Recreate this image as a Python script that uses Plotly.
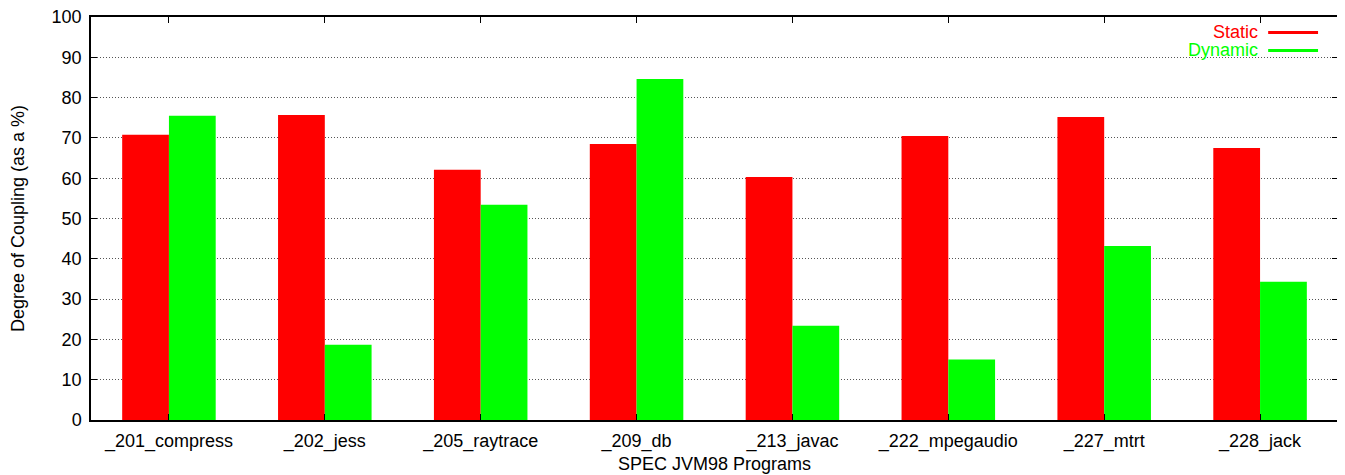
import plotly.graph_objects as go

programs = ["_201_compress", "_202_jess", "_205_raytrace", "_209_db",
            "_213_javac", "_222_mpegaudio", "_227_mtrt", "_228_jack"]
static_vals = [70.8, 75.7, 62.1, 68.5, 60.3, 70.5, 75.2, 67.5]
dynamic_vals = [75.5, 18.7, 53.4, 84.6, 23.4, 15.0, 43.2, 34.3]
y_ticks = [0, 10, 20, 30, 40, 50, 60, 70, 80, 90, 100]

FONT = "Liberation Sans, Arial, Helvetica, sans-serif"
FS = 18
RED = "#ff0000"
GREEN = "#00ff00"

fig = go.Figure()
fig.add_trace(go.Bar(x=programs, y=static_vals, name="Static",
                     marker=dict(color=RED, line=dict(width=0)), showlegend=False))
fig.add_trace(go.Bar(x=programs, y=dynamic_vals, name="Dynamic",
                     marker=dict(color=GREEN, line=dict(width=0)), showlegend=False))

# gnuplot-style key (text right-aligned, line sample to the right)
legend_items = [("Static", RED, 0.9616), ("Dynamic", GREEN, 0.917)]
for label, col, yp in legend_items:
    fig.add_annotation(x=0.935, y=yp, xref="paper", yref="paper", text=label,
                       showarrow=False, xanchor="right", yanchor="middle",
                       xshift=3, font=dict(family=FONT, size=FS, color=col))
    fig.add_shape(type="line", xref="paper", yref="paper",
                  x0=0.944, x1=0.984, y0=yp, y1=yp, line=dict(color=col, width=3))

fig.update_layout(
    width=1337, height=467,
    margin=dict(l=83, r=7, t=8.5, b=54.5, autoexpand=False),
    paper_bgcolor="white", plot_bgcolor="white",
    barmode="group", bargap=0.4, bargroupgap=0,
    font=dict(family=FONT, size=FS, color="black"),
    showlegend=False,
)
fig.update_xaxes(
    range=[-0.5, 7.5], showline=True, linecolor="black", linewidth=1.5,
    mirror="ticks", ticks="inside", ticklen=6, tickcolor="black",
    showgrid=False, automargin=False, ticklabelstandoff=4,
    ticklabeloverflow="allow",
    title=dict(text="SPEC JVM98 Programs", standoff=6, font=dict(size=FS)),
    tickfont=dict(size=FS),
)
fig.update_yaxes(
    range=[0, 100], tickvals=y_ticks, showline=True, linecolor="black", linewidth=1.5,
    mirror="ticks", ticks="inside", ticklen=6, tickcolor="black",
    showgrid=True, gridcolor="#555555", griddash="1px,2px", gridwidth=1,
    zeroline=False, automargin=False, ticklabelstandoff=4,
    ticklabeloverflow="allow",
    title=dict(text="Degree of Coupling (as a %)", standoff=33, font=dict(size=FS)),
    tickfont=dict(size=FS),
)

fig.write_html("out.html")
